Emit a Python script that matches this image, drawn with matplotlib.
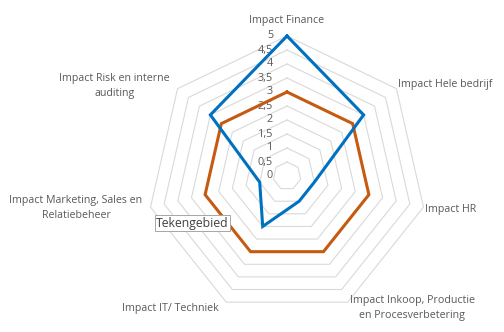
import numpy as np
import matplotlib.pyplot as plt

categories = ["Impact Finance", "Impact Hele bedrijf", "Impact HR",
              "Impact Inkoop, Productie\nen Procesverbetering", "Impact IT/ Techniek",
              "Impact Marketing, Sales en\nRelatiebeheer", "Impact Risk en interne\nauditing"]
blauw = [5, 3.5, 1, 1, 2, 1, 3.5]
oranje = [3, 3, 3, 3, 3, 3, 3]
niveaus = [0.5, 1, 1.5, 2, 2.5, 3, 3.5, 4, 4.5, 5]
tick_labels = ["0", "0,5", "1", "1,5", "2", "2,5", "3", "3,5", "4", "4,5", "5"]

W, H = 504, 332
cx, cy = 287, 176      # middelpunt in pixels
px = 28.0              # pixels per eenheid

n = len(categories)
theta = np.pi / 2 - np.arange(n) * 2 * np.pi / n


def xy(vals):
    vals = np.asarray(vals, dtype=float)
    x = vals * np.cos(theta)
    y = vals * np.sin(theta)
    return np.append(x, x[0]), np.append(y, y[0])


fig = plt.figure(figsize=(W / 100, H / 100), dpi=100)
ax = fig.add_axes([0, 0, 1, 1])
ax.set_xlim(-cx / px, (W - cx) / px)
ax.set_ylim(-(H - cy) / px, cy / px)
ax.set_aspect("equal")
ax.axis("off")

plt.rcParams["font.family"] = ["Open Sans", "DejaVu Sans"]
tekst = "#595959"

# rasterlijnen (zevenhoeken)
for r in niveaus:
    gx, gy = xy([r] * n)
    ax.plot(gx, gy, color="#d9d9d9", lw=0.8, zorder=1)

# waardelabels langs de bovenste as
for i, lab in enumerate(tick_labels):
    ax.text(-14 / px, i * 0.5, lab, ha="right", va="center",
            fontsize=7.8, color=tekst, zorder=3)

# reeksen
bx, by = xy(oranje)
ax.plot(bx, by, color="#c55a11", lw=2.2, solid_joinstyle="miter", zorder=4)
bx, by = xy(blauw)
ax.plot(bx, by, color="#0070c0", lw=2.2, solid_joinstyle="miter", zorder=5)

# categorielabels
opts = [
    (5.55, 0.0, "center", "center"),
    (5.0, 4 / px, "left", "center"),
    (5.0, -2 / px, "left", "center"),
    (5.0, -6 / px, "left", "center"),
    (5.0, -6 / px, "right", "center"),
    (5.0, -1 / px, "right", "center"),
    (5.0, 3 / px, "right", "center"),
]
for i, (cat, (r, dy, ha, va)) in enumerate(zip(categories, opts)):
    x = r * np.cos(theta[i])
    y = r * np.sin(theta[i]) + dy
    if ha == "left":
        x += 2 / px
    elif ha == "right":
        x -= 8 / px
    ax.text(x, y, cat, ha=ha, va=va, multialignment="center",
            fontsize=7.7, color=tekst, linespacing=1.55, zorder=3)

# tooltip "Tekengebied"
ax.text((192.5 - cx) / px, (cy - 223) / px, "Tekengebied", ha="center", va="center",
        fontsize=8.8, color="#404040", zorder=6,
        bbox=dict(boxstyle="square,pad=0.12", fc="white", ec="#a6a6a6", lw=0.7))

fig.savefig("out.png", dpi=100)
